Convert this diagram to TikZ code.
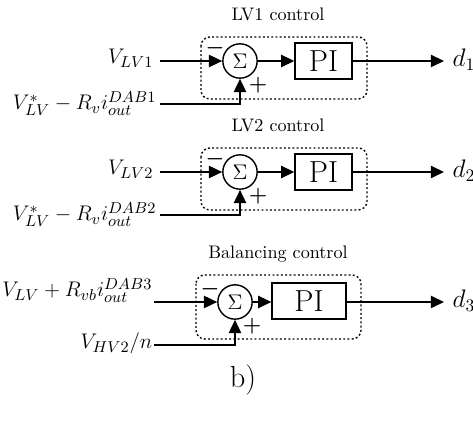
\documentclass[tikz,border=0pt]{standalone}
\usetikzlibrary{arrows.meta}
\begin{document}
\begin{tikzpicture}[x=0.568pt,y=-0.568pt,
  every path/.style={line width=0.8pt},
  arr/.style={-{Triangle[length=7.5pt,width=7pt]}},
  sumnode/.style={circle,draw,minimum size=19.5pt,inner sep=0pt,font=\large},
  pibox/.style={draw,rectangle,inner sep=0pt,minimum height=20.4pt,font=\LARGE},
  grp/.style={draw,dash pattern=on 1.1pt off 1.3pt,rounded corners=5pt,line width=0.8pt},
  lbl/.style={font=\fontsize{12.8}{15}\selectfont,inner sep=0pt},
  dl/.style={font=\fontsize{14}{16}\selectfont,inner sep=0pt,anchor=base west},
  ttl/.style={font=\fontsize{10.3}{12}\selectfont,inner sep=0pt},
  sgn/.style={font=\large\boldmath,inner sep=0pt}]
\useasboundingbox (0,0) rectangle (473,423);
% ---------- Block 1 ----------
\node[ttl] (t1) at (278,14) {LV1 control};
\draw[grp] (201,37) rectangle (367,99);
\node[sumnode] (s1) at (240,61) {$\Sigma$};
\node[pibox,minimum width=32.4pt] (p1) at (323.5,61) {PI};
\node[lbl,anchor=base east] (a1) at (154,64) {$V_{LV1}$};
\node[lbl,anchor=base east] (b1) at (157,110) {$V_{LV}^{*}-R_{v}i_{out}^{DAB1}$};
\coordinate (ia1) at (160,61);
\coordinate (ib1) at (160,104);
\coordinate (o1) at (444,61);
\node[dl] (d1) at (452,67) {$d_1$};
\node[sgn] (m1) at (215,48) {$-$};
\node[sgn] (q1) at (258,85) {$+$};
\draw[arr] (ia1) -- (s1);
\draw[arr] (ib1) -| (s1);
\draw[arr] (s1) -- (p1);
\draw[arr] (p1) -- (o1);
% ---------- Block 2 ----------
\node[ttl] (t2) at (278,125) {LV2 control};
\draw[grp] (201,148) rectangle (367,210);
\node[sumnode] (s2) at (240,172) {$\Sigma$};
\node[pibox,minimum width=32.4pt] (p2) at (323.5,172) {PI};
\node[lbl,anchor=base east] (a2) at (154,175) {$V_{LV2}$};
\node[lbl,anchor=base east] (b2) at (157,221) {$V_{LV}^{*}-R_{v}i_{out}^{DAB2}$};
\coordinate (ia2) at (160,172);
\coordinate (ib2) at (160,215);
\coordinate (o2) at (444,172);
\node[dl] (d2) at (452,178) {$d_2$};
\node[sgn] (m2) at (215,159) {$-$};
\node[sgn] (q2) at (258,196) {$+$};
\draw[arr] (ia2) -- (s2);
\draw[arr] (ib2) -| (s2);
\draw[arr] (s2) -- (p2);
\draw[arr] (p2) -- (o2);
% ---------- Block 3 ----------
\node[ttl] (t3) at (278,254) {Balancing control};
\draw[grp] (196,275) rectangle (361,339);
\node[sumnode] (s3) at (235,302) {$\Sigma$};
\node[pibox,minimum width=42pt] (p3) at (309,301) {PI};
\node[lbl,anchor=base east] (a3) at (153,297) {$V_{LV}+R_{vb}i_{out}^{DAB3}$};
\node[lbl,anchor=base east] (b3) at (153,349) {$V_{HV2}/n$};
\coordinate (ia3) at (154,302);
\coordinate (ib3) at (154,345);
\coordinate (o3) at (444,302);
\node[dl] (d3) at (452,308) {$d_3$};
\node[sgn] (m3) at (210,289) {$-$};
\node[sgn] (q3) at (252,326) {$+$};
\draw[arr] (ia3) -- (s3);
\draw[arr] (ib3) -| (s3);
\draw[arr] (s3) -- (p3.west |- s3);
\draw[arr] (p3.east |- s3) -- (o3);
% ---------- caption ----------
\node[font=\LARGE,inner sep=0pt] (cap) at (243,380) {b)};
\end{tikzpicture}
\end{document}
